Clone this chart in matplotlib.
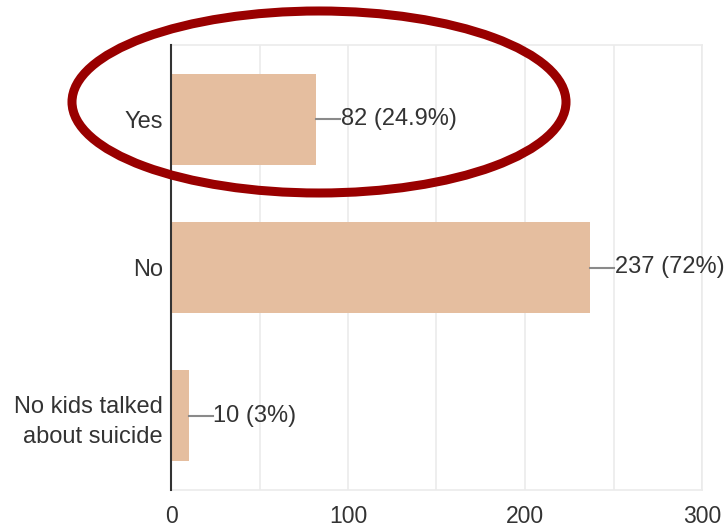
import matplotlib
matplotlib.use("Agg")
import matplotlib.pyplot as plt
from matplotlib.patches import Ellipse

categories = ["Yes", "No", "No kids talked\nabout suicide"]
counts = [82, 237, 10]
pct_labels = ["24.9%", "72%", "3%"]
xticks = [0, 100, 200, 300]

plt.rcParams["font.family"] = ["Liberation Sans", "DejaVu Sans"]
txt = "#333333"

fig = plt.figure(figsize=(7.28, 5.29), dpi=100)
ax = fig.add_axes([171 / 728, 1 - 490 / 529, 531 / 728, 445 / 529])

ypos = list(range(len(categories)))
ax.barh(ypos, counts, height=0.615, color="#e5be9f", zorder=2)

# leader line + value label for each bar
lead = 13.5
for y, c, p in zip(ypos, counts, pct_labels):
    ax.plot([c, c + lead], [y, y], color="#8a8a8a", lw=1.5, zorder=3)
    ax.text(c + lead + 0.5, y, f"{c} ({p})", va="center", ha="left",
            fontsize=17, color=txt)

ax.set_xlim(0, 300)
ax.set_ylim(2.5, -0.5)
ax.set_yticks(ypos)
ax.set_yticklabels(categories, fontsize=17, color=txt, linespacing=1.45)
ax.set_xticks(xticks)
ax.set_xticklabels([str(t) for t in xticks], fontsize=16.5, color=txt)
ax.tick_params(axis="both", length=0)
ax.tick_params(axis="x", pad=11)
ax.tick_params(axis="y", pad=6)

for x in range(50, 301, 50):
    ax.axvline(x, color="#ebebeb", lw=1.2, zorder=0)
for s in ["top", "bottom", "right"]:
    ax.spines[s].set_color("#ebebeb")
    ax.spines[s].set_linewidth(1.2)
ax.spines["left"].set_color("#333333")
ax.spines["left"].set_linewidth(1.5)
ax.spines["left"].set_zorder(4)

# red highlight around the "Yes" row
ell = Ellipse((319 / 728, 1 - 102 / 529), 494 / 728, 182 / 529,
              transform=fig.transFigure, fill=False,
              edgecolor="#990000", lw=6.5, zorder=10)
fig.patches.append(ell)

fig.savefig("out.png", dpi=100)
